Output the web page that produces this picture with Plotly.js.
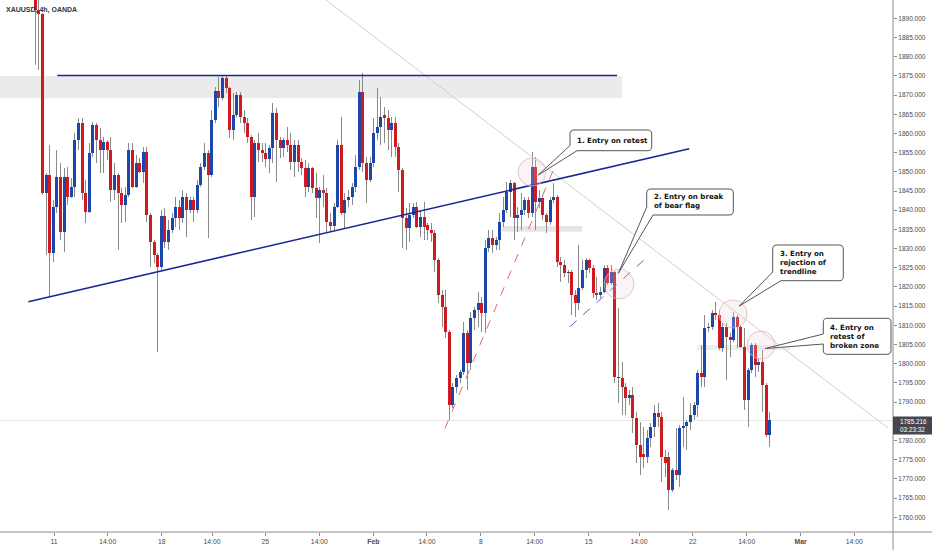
<!DOCTYPE html>
<html><head><meta charset="utf-8">
<script src="https://cdn.plot.ly/plotly-3.0.1.min.js"></script>
<style>html,body{margin:0;padding:0;background:#fff;}#chart{width:932px;height:550px;}</style>
</head><body><div id="chart"></div>
<script>
// ---- data (4h candles) ----
const opens = [1897,1892.16,1891.12,1844.40,1849.17,1828.76,1840.75,1848.74,1834.41,1848.74,
1843.53,1846.13,1858.29,1862.64,1844.40,1839.62,1854.82,1862.20,1858.29,1855.69,
1857.86,1855.69,1845.27,1849.17,1844.40,1841.36,1843.96,1855.69,1846.13,1852.21,
1850.04,1855.25,1838.75,1831.80,1828.33,1825.29,1838.49,1831.80,1834.84,1837.88,
1840.75,1837.88,1843.36,1840.06,1842.66,1840.06,1846.57,1851.35,1854.82,1849.17,
1863.50,1871.00,1869.15,1874.36,1871.76,1860.90,1864.81,1870.02,1864.38,1862.64,
1859.16,1843.53,1857.43,1855.69,1854.82,1853.26,1856.13,1865.24,1858.30,1856.13,
1858.30,1856.99,1852.65,1856.99,1852.65,1850.91,1846.14,1850.91,1845.70,1843.10,
1845.27,1844.40,1837.02,1835.98,1840.93,1856.99,1839.19,1842.66,1843.53,1846.14,
1851.35,1870.89,1852.22,1847.87,1852.22,1860.03,1861.77,1864.80,1863.94,1860.90,
1862.64,1856.56,1850.48,1837.89,1835.28,1838.76,1840.93,1835.71,1838.32,1836.20,
1834.80,1833.98,1827.03,1817.91,1814.87,1808.36,1789.25,1794.03,1796.20,1797.94,
1807.92,1800.11,1811.83,1814.00,1815.74,1813.13,1830.07,1832.67,1830.94,1832.24,
1837.02,1840.06,1844.83,1847.00,1837.88,1838.75,1840.06,1842.66,1839.19,1851.35,
1842.23,1843.10,1838.75,1837.02,1842.66,1843.36,1826.59,1825.73,1823.55,1823.99,
1817.91,1815.74,1819.65,1824.42,1827.03,1824.86,1818.34,1817.91,1818.78,1824.86,
1820.95,1823.99,1796.63,1796.19,1794.02,1790.98,1791.85,1785.77,1778.82,1776.40,
1775.78,1780.56,1783.60,1787.07,1786.20,1775.78,1775.78,1767.10,1772.31,1771.01,
1783.17,1783.90,1784.90,1786.64,1789.24,1797.49,1796.63,1809.22,1809.65,1813.13,
1812.69,1804.01,1809.65,1807.05,1806.18,1812.26,1809.65,1804.44,1790.55,1798.36,
1804.88,1799.67,1800.53,1794.45,1781.43];
const highs = [1899,1896,1891.5,1849.61,1856.99,1842.66,1855.69,1852.21,1850.91,1851.35,
1848.30,1860.03,1863.94,1863.94,1847.87,1857.42,1863.07,1862.64,1861.33,1859.16,
1858.29,1859.16,1852.21,1849.61,1845.70,1846.13,1857.42,1857.42,1854.38,1853.52,
1856.56,1856.56,1839.19,1832.24,1828.76,1840.06,1840.49,1837.45,1839.19,1843.53,
1842.66,1845.27,1844.40,1843.53,1843.53,1847.87,1852.21,1857.42,1855.69,1866.11,
1872.19,1874.80,1875.23,1875.23,1872.19,1870.46,1870.89,1870.89,1866.11,1863.94,
1859.60,1858.30,1860.03,1857.43,1857.43,1856.99,1867.85,1866.55,1859.16,1858.73,
1861.77,1860.03,1858.30,1858.30,1853.52,1853.08,1852.22,1851.35,1849.61,1846.14,
1849.18,1845.70,1839.19,1841.79,1858.30,1864.38,1844.40,1845.27,1847.01,1854.39,
1873.93,1875.67,1853.95,1853.95,1863.94,1871.76,1869.59,1866.98,1866.11,1864.38,
1864.38,1857.43,1850.91,1840.49,1841.79,1841.79,1842.23,1840.06,1842.23,1836.58,
1836.58,1834.84,1827.46,1819.21,1819.21,1808.79,1794.89,1797.07,1798.37,1810.96,
1808.79,1813.57,1814.87,1818.78,1817.48,1832.24,1834.84,1834.84,1833.11,1839.19,
1843.53,1847.44,1847.87,1847.44,1840.92,1844.40,1843.53,1843.53,1855.25,1853.95,
1845.27,1843.96,1839.19,1843.53,1847.00,1843.96,1827.90,1827.03,1824.42,1824.42,
1819.21,1830.94,1827.03,1827.50,1827.40,1825.73,1822.69,1820.08,1825.73,1825.73,
1825.73,1824.20,1814.43,1800.53,1794.89,1793.15,1794.02,1787.51,1784.90,1783.60,
1782.73,1784.47,1789.24,1789.68,1787.51,1777.52,1777.09,1772.74,1783.17,1784.03,
1791.41,1785.34,1789.68,1790.11,1798.36,1804.88,1812.69,1810.52,1814.00,1816.17,
1814.00,1810.52,1810.52,1807.92,1813.56,1812.69,1810.09,1809.22,1799.00,1805.31,
1805.31,1801.50,1803.57,1794.89,1787.51];
const lows = [1877.83,1876.53,1844.00,1828.33,1817.47,1826.59,1839.19,1832.24,1829.20,1841.36,
1843.09,1843.53,1855.69,1842.66,1836.58,1839.19,1853.95,1852.21,1849.61,1849.61,
1853.08,1842.23,1842.66,1829.63,1836.58,1837.02,1843.53,1845.70,1845.70,1849.61,
1847.00,1837.02,1825.29,1826.16,1803.14,1824.42,1830.07,1829.63,1833.98,1835.71,
1834.84,1836.58,1833.11,1839.19,1837.02,1839.19,1846.13,1850.48,1832.67,1848.74,
1862.64,1866.98,1868.72,1870.46,1858.73,1858.30,1864.38,1862.64,1860.03,1857.43,
1837.45,1838.32,1852.65,1852.65,1851.35,1849.61,1852.22,1847.44,1853.52,1853.95,
1855.26,1850.48,1848.74,1850.05,1849.18,1843.53,1844.83,1844.40,1837.89,1831.37,
1840.93,1833.98,1834.41,1834.85,1840.49,1838.76,1835.28,1840.93,1841.36,1844.83,
1850.48,1850.05,1841.79,1847.44,1851.35,1858.30,1856.99,1857.43,1855.69,1853.95,
1853.95,1844.83,1830.07,1829.63,1831.81,1837.89,1835.28,1833.11,1832.24,1832.24,
1831.81,1823.99,1815.74,1809.66,1806.62,1785.34,1788.38,1792.29,1794.89,1797.07,
1793.16,1798.37,1808.79,1809.66,1808.36,1807.92,1829.20,1828.77,1829.63,1829.63,
1835.71,1839.19,1838.32,1832.24,1834.41,1834.84,1838.75,1837.88,1838.32,1834.84,
1840.49,1837.45,1833.98,1836.15,1841.79,1825.29,1821.38,1822.69,1820.95,1812.70,
1812.26,1814.00,1819.21,1822.25,1823.55,1817.04,1816.61,1817.04,1818.34,1820.52,
1820.50,1794.89,1789.68,1786.64,1786.64,1789.24,1781.86,1774.05,1771.01,1772.74,
1774.05,1778.39,1780.99,1783.60,1769.27,1770.57,1761.88,1766.50,1769.70,1767.97,
1778.39,1777.52,1782.73,1785.34,1786.20,1794.02,1794.02,1808.35,1808.79,1811.39,
1803.57,1803.14,1795.76,1801.84,1805.75,1804.01,1804.01,1787.94,1783.60,1797.49,
1796.63,1797.80,1787.51,1781.00,1778.39];
const closes = [1892.16,1891.12,1844.40,1849.17,1828.76,1840.75,1848.74,1834.41,1848.74,1843.53,
1846.13,1858.29,1862.64,1844.40,1839.62,1854.82,1862.20,1858.29,1855.69,1857.86,
1855.69,1845.27,1849.17,1844.40,1841.36,1843.96,1855.69,1846.13,1852.21,1850.04,
1855.25,1838.75,1831.80,1828.33,1825.29,1838.49,1831.80,1834.84,1837.88,1840.75,
1837.88,1843.36,1840.06,1842.66,1840.06,1846.57,1851.35,1854.82,1849.17,1863.50,
1871.00,1869.15,1874.36,1871.76,1860.90,1864.81,1870.02,1864.38,1862.64,1859.16,
1843.53,1857.43,1855.69,1854.82,1853.26,1856.13,1865.24,1858.30,1856.13,1858.30,
1856.99,1852.65,1856.99,1852.65,1850.91,1846.14,1850.91,1845.70,1843.10,1845.27,
1844.40,1837.02,1835.98,1840.93,1856.99,1839.19,1842.66,1843.53,1846.14,1851.35,
1870.89,1852.22,1847.87,1852.22,1860.03,1861.77,1864.20,1863.94,1860.90,1862.64,
1856.56,1850.48,1837.89,1835.28,1838.76,1840.93,1835.71,1838.32,1835.71,1834.80,
1833.98,1827.03,1817.91,1814.87,1808.36,1789.25,1794.03,1796.20,1797.94,1807.92,
1800.11,1811.83,1814.00,1815.74,1813.13,1830.07,1832.67,1830.94,1832.24,1837.02,
1840.06,1844.83,1847.00,1837.88,1838.75,1840.06,1842.66,1839.19,1851.35,1842.23,
1843.10,1838.75,1837.02,1842.66,1843.36,1826.59,1825.73,1823.55,1823.99,1817.91,
1815.74,1819.65,1824.42,1827.03,1824.86,1818.34,1817.91,1818.78,1824.86,1820.95,
1823.99,1796.63,1796.19,1794.02,1790.98,1791.85,1785.77,1778.82,1775.78,1775.78,
1780.56,1783.60,1787.07,1786.20,1775.78,1774.05,1767.10,1772.31,1771.01,1783.17,
1783.90,1784.90,1786.64,1789.24,1797.49,1796.63,1809.22,1809.65,1813.13,1812.69,
1804.01,1809.65,1807.05,1806.18,1812.26,1809.65,1804.44,1790.55,1798.36,1804.88,
1799.67,1800.53,1794.45,1781.43,1785.22];

const tickPos  = [5.2,20.1,35.1,49.1,63.9,78.9,93.9,108.8,123.8,138.7,153.7,167.7,182.6,197.6,212.6,227.5];
const tickText = ['11','14:00','18','14:00','25','14:00','<b>Feb</b>','14:00','8','14:00','15','14:00','22','14:00','<b>Mar</b>','14:00'];
const priceTicks = [1760,1765,1770,1775,1780,1785,1790,1795,1800,1805,1810,1815,1820,1825,1830,1835,1840,1845,1850,1855,1860,1865,1870,1875,1880,1885,1890];
const priceTickText = ['1760.000','1765.000','1770.000','1775.000','1780.000','1785.000','1790.000','1795.000','1800.000','1805.000','1810.000','1815.000','1820.000','1825.000','1830.000','1835.000','1840.000','1845.000','1850.000','1855.000','1860.000','1865.000','1870.000','1875.000','1880.000','1885.000','1890.000'];
const lastPrice = 1785.216;
const lastPriceText = '1785.216';
const countdownText = '03:23:32';
const titleText = 'XAUUSD, 4h, OANDA';
const calloutLines = [
  ['1. Entry on retest'],
  ['2. Entry on break','of bear flag'],
  ['3. Entry on','rejection of','trendline'],
  ['4. Entry on','retest of','broken zone']
];

// ---- build traces ----
const BLUE = '#1b47ad', RED = '#cf1b1f', WICK = '#8a8a8a';
const idx = opens.map((_, i) => i);
const bodyBase = opens.map((o, i) => Math.min(o, closes[i]));
const bodyLen = opens.map((o, i) => Math.max(Math.abs(closes[i] - o), 0.3));
const bodyCol = opens.map((o, i) => closes[i] >= o ? BLUE : RED);

const wicks = {type:'bar', x: idx, base: lows, y: highs.map((h,i)=>h-lows[i]), width: 0.28,
  marker:{color: WICK, line:{width:0}}, hoverinfo:'skip', showlegend:false};
const bodies = {type:'bar', x: idx, base: bodyBase, y: bodyLen, width: 0.8,
  marker:{color: bodyCol, line:{width:0}}, hoverinfo:'skip', showlegend:false};

// ---- pixel helpers for annotations (plot area 893 x 532) ----
const PW = 893, PH = 532;
const px = x => x / PW, py = y => 1 - y / PH;
function path(cmds){
  return cmds.map(c => {
    if (c[0] === 'Z') return 'Z';
    let s = c[0];
    for (let k = 1; k < c.length; k += 2) s += ' ' + px(c[k]).toFixed(5) + ',' + py(c[k+1]).toFixed(5);
    return s;
  }).join(' ');
}
function circ(cx, cy, r){
  return {type:'circle', xref:'paper', yref:'paper', x0:px(cx-r), x1:px(cx+r), y0:py(cy+r), y1:py(cy-r),
    fillcolor:'rgba(236,205,205,0.22)', line:{color:'rgba(222,178,178,0.75)', width:1}};
}
const bubbleStyle = {xref:'paper', yref:'paper', fillcolor:'#ffffff', line:{color:'#555555', width:1}};

const shapes = [
  {type:'rect', xref:'paper', yref:'y', x0:0, x1:px(622), y0:1869.16, y1:1874.97, fillcolor:'#ebebeb', line:{width:0}, layer:'below'},
  {type:'rect', xref:'paper', yref:'y', x0:px(502), x1:px(582), y0:1834.40, y1:1835.89, fillcolor:'#e6e6e6', line:{width:0}, layer:'below'},
  {type:'rect', xref:'paper', yref:'y', x0:px(697), x1:px(790), y0:1803.58, y1:1804.88, fillcolor:'#eeeeee', line:{width:0}, layer:'below'},
  {type:'line', xref:'paper', yref:'y', x0:0, x1:1, y0:lastPrice, y1:lastPrice, line:{color:'rgba(200,200,200,0.45)', width:1}, layer:'below'},
  {type:'line', xref:'x', yref:'y', x0:80.75, y0:1894.77, x1:236.86, y1:1783.26, line:{color:'#cfcfcf', width:1}},
  {type:'line', xref:'x', yref:'y', x0:6.1, y0:1875.1, x1:161.6, y1:1875.1, line:{color:'#1a2596', width:1.6}},
  {type:'line', xref:'x', yref:'y', x0:-1.94, y0:1816.16, x1:181.67, y1:1856.03, line:{color:'#1a2596', width:1.6}},
  {type:'line', xref:'x', yref:'y', x0:113.8, y0:1783.18, x1:143.9, y1:1850.48, line:{color:'#e06a6a', width:1, dash:'dash'}},
  {type:'line', xref:'x', yref:'y', x0:148.5, y0:1809.65, x1:170.3, y1:1828.07, line:{color:'#5b5bd6', width:1, dash:'dash'}},
  circ(532,172,14), circ(619,284,15), circ(733,314,14), circ(761,345,14),
  Object.assign({type:'path', path: path([['M',574,130],['L',647.7,130],['Q',651.7,130,651.7,134],['L',651.7,146.7],['Q',651.7,150.7,647.7,150.7],['L',577,150.7],['L',538.3,175],['L',570,145.5],['L',570,134],['Q',570,130,574,130],['Z']])}, bubbleStyle),
  Object.assign({type:'path', path: path([['M',650.7,189],['L',729.3,189],['Q',733.3,189,733.3,193],['L',733.3,211],['Q',733.3,215,729.3,215],['L',653,215],['L',618.3,273.3],['L',646.7,207],['L',646.7,193],['Q',646.7,189,650.7,189],['Z']])}, bubbleStyle),
  Object.assign({type:'path', path: path([['M',776.7,245],['L',839.3,245],['Q',843.3,245,843.3,249],['L',843.3,276.7],['Q',843.3,280.7,839.3,280.7],['L',781,280.7],['L',739.3,306],['L',772.7,272],['L',772.7,249],['Q',772.7,245,776.7,245],['Z']])}, bubbleStyle),
  Object.assign({type:'path', path: path([['M',827.3,318.3],['L',887,318.3],['Q',891,318.3,891,322.3],['L',891,350.3],['Q',891,354.3,887,354.3],['L',827.3,354.3],['Q',823.3,354.3,823.3,350.3],['L',823.3,344],['L',765.5,348.5],['L',823.3,334],['L',823.3,322.3],['Q',823.3,318.3,827.3,318.3],['Z']])}, bubbleStyle),
  {type:'line', xref:'paper', yref:'paper', x0:0, x1:932/PW, y0:0, y1:0, line:{color:'#8c8c8c', width:1}},
  {type:'line', xref:'paper', yref:'paper', x0:1, x1:1, y0:py(550), y1:1, line:{color:'#8c8c8c', width:1}},
  {type:'rect', xref:'paper', yref:'paper', x0:1, x1:932/PW, y0:py(434.5), y1:py(416.5), fillcolor:'#45474f', line:{width:0}}
];

// one multi-line annotation per callout, centred on the block's middle
const calloutPos = [
  {x:576, y:140.3},
  {x:652.5, y:201.2},
  {x:778.7, y:262.8},
  {x:828.5, y:336.2}
];
const annotations = calloutLines.map((lines, b) => ({
  xref:'paper', yref:'paper', x:px(calloutPos[b].x), y:py(calloutPos[b].y),
  xanchor:'left', yanchor:'middle', align:'left', showarrow:false, borderpad:0,
  text: lines.map(t => '<b>'+t+'</b>').join('<br>'),
  font:{family:'DejaVu Sans', size:7.1, color:'#111'}
}));
annotations.push({xref:'paper', yref:'paper', x:px(5), y:py(10), xanchor:'left', yanchor:'middle', showarrow:false, borderpad:0,
  text:'<b>'+titleText+'</b>', font:{family:'Liberation Sans', size:7, color:'#333'}});
annotations.push({xref:'paper', yref:'paper', x:px(898.5), y:py(425.5), xanchor:'left', yanchor:'middle', align:'left', showarrow:false, borderpad:0,
  text:lastPriceText+'<br>'+countdownText, font:{family:'Liberation Sans', size:6.4, color:'#ffffff'}});

const layout = {
  width:932, height:550, margin:{l:0, r:39, t:0, b:18},
  paper_bgcolor:'#ffffff', plot_bgcolor:'#ffffff',
  barmode:'overlay', bargap:0, showlegend:false, hovermode:false,
  font:{family:'Liberation Sans', size:6.5, color:'#4a4a4a'},
  xaxis:{range:[-9.81, 238.25], tickmode:'array', tickvals:tickPos, ticktext:tickText,
    ticks:'outside', ticklen:3, tickcolor:'#8c8c8c', showgrid:false, zeroline:false, showline:false,
    tickfont:{family:'Liberation Sans', size:6.8, color:'#4a4a4a'}, fixedrange:true},
  yaxis:{range:[1756.16, 1894.77], side:'right', tickmode:'array', tickvals:priceTicks, ticktext:priceTickText,
    ticks:'outside', ticklen:3, tickcolor:'#8c8c8c', showgrid:false, zeroline:false, showline:false,
    tickfont:{family:'Liberation Sans', size:6.5, color:'#4a4a4a'}, fixedrange:true},
  shapes: shapes,
  annotations: annotations
};

Plotly.newPlot('chart', [wicks, bodies], layout, {displayModeBar:false, staticPlot:true});
</script>
</body></html>
